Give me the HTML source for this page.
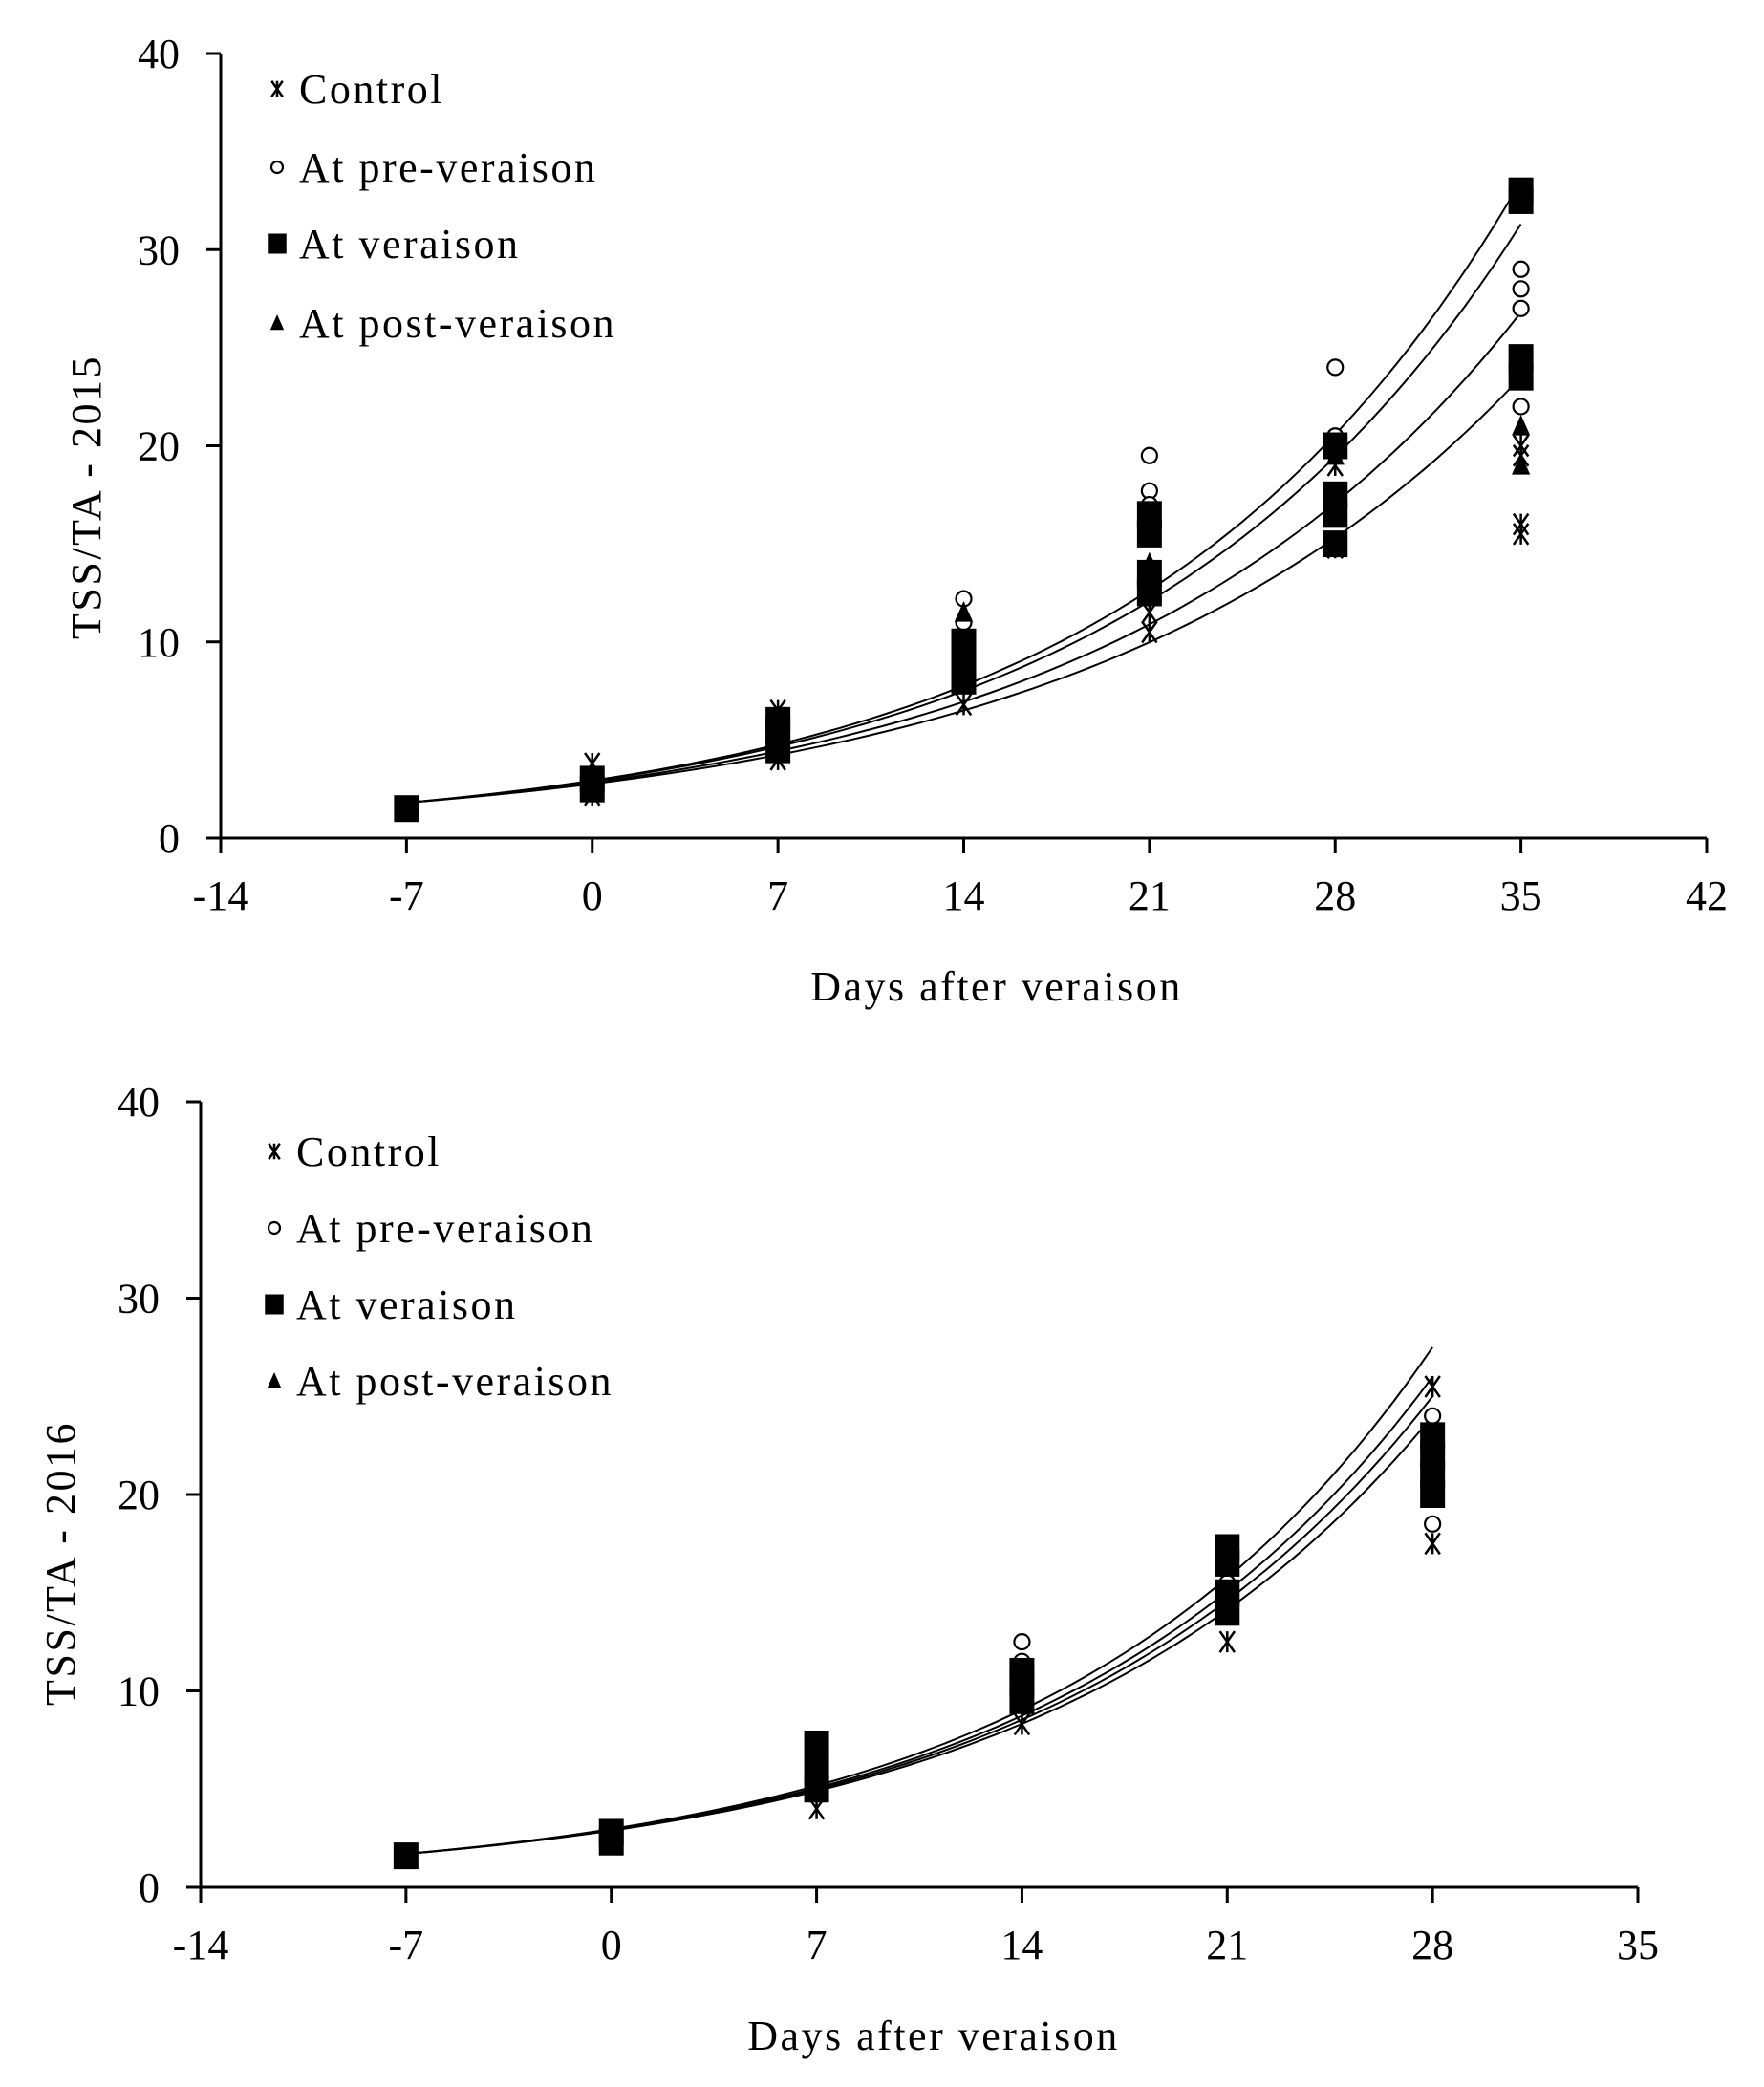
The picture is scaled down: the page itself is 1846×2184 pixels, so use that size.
<!DOCTYPE html>
<html><head><meta charset="utf-8">
<style>
html,body{margin:0;padding:0;background:#fff;}
svg{display:block;}
text{font-family:"Liberation Serif",serif;fill:#000;}
.sp{letter-spacing:2.5px;}
</style></head>
<body>
<svg id="chart" width="1846" height="2184" viewBox="0 0 1846 2184" xmlns="http://www.w3.org/2000/svg"></svg>
<script>
// ---- data: 2015 ----
const xTicks2015 = [-14,-7,0,7,14,21,28,35,42];
const yTicks = [0,10,20,30,40];
const fitStart2015 = [1.8,1.8,1.8,1.8];
const fitEnd2015 = [33.5,31.3,26.8,23.5];
const control2015 = [[-7,1.5],[0,3.8],[0,2.2],[7,6.5],[7,4.0],[14,6.8],[14,8],[21,10.5],[21,11.5],[28,14.8],[28,19],[35,15.5],[35,16],[35,19.5],[35,20]];
const pre2015 = [[0,2.5],[7,5.5],[14,12.2],[14,11],[21,19.5],[21,17.7],[21,17],[28,24],[28,20.5],[35,29],[35,28],[35,27],[35,22]];
const ver2015 = [[-7,1.5],[0,2.5],[0,3],[7,4.5],[7,5.5],[7,6],[14,8],[14,9],[14,10],[21,12.5],[21,13.5],[21,15.5],[21,16.5],[28,15],[28,16.5],[28,17.5],[28,20],[35,32.5],[35,33],[35,23.5],[35,24.5]];
const post2015 = [[14,11.5],[21,14],[28,19.5],[35,21],[35,19]];
// ---- data: 2016 ----
const xTicks2016 = [-14,-7,0,7,14,21,28,35];
const fitStart2016 = [1.7,1.7,1.7,1.7];
const fitEnd2016 = [27.5,26,25,24];
const control2016 = [[7,4],[14,8.3],[21,12.5],[28,17.5],[28,25.5],[28,23]];
const pre2016 = [[14,12.5],[14,11.5],[21,15.5],[28,18.5],[28,24]];
const ver2016 = [[-7,1.6],[0,2.3],[0,2.8],[7,5],[7,6],[7,7.3],[14,9.5],[14,10.5],[14,11],[21,14],[21,15],[21,16.5],[21,17.3],[28,20],[28,21],[28,22],[28,23]];
const post2016 = [[28,22]];
const legendLabels = ["Control","At pre-veraison","At veraison","At post-veraison"];

const NS="http://www.w3.org/2000/svg";
const svg=document.getElementById('chart');
function mk(tag,attrs,parent){const e=document.createElementNS(NS,tag);for(const k in attrs)e.setAttribute(k,attrs[k]);(parent||svg).appendChild(e);return e;}

function marker(kind,cx,cy,g,scale){
  const s=scale||1;
  if(kind===0){
    const r=11*s;
    const m=mk('path',{d:`M${cx-r*0.7},${cy-r}L${cx+r*0.7},${cy+r}M${cx+r*0.7},${cy-r}L${cx-r*0.7},${cy+r}M${cx},${cy-r}L${cx},${cy+r}`,stroke:'#000','stroke-width':2.5,fill:'none'},g);
    
    
  }else if(kind===1){
    const m=mk('circle',{cx:cx,cy:cy,r:8*s,fill:'#fff',stroke:'#000','stroke-width':2.2},g);
    
    
  }else if(kind===2){
    const m=mk('rect',{x:cx-13*s,y:cy-14*s,width:26*s,height:28*s,fill:'#000'},g);
    
    
  }else{
    const r=12*s;
    const m=mk('polygon',{points:`${cx},${cy-r} ${cx+r*0.8},${cy+r*0.8} ${cx-r*0.8},${cy+r*0.8}`,fill:'#000'},g);
    
    
  }
}

function drawPanel(o){
  const g=mk('g',{});
  
  
  const xMin=o.xTicks[0], xMax=o.xTicks[o.xTicks.length-1];
  const X=v=>o.x0+(v-xMin)/(xMax-xMin)*(o.x1-o.x0);
  const Y=v=>o.y0-(v/40)*(o.y0-o.y1);
  const ya=mk('line',{x1:o.x0,y1:o.y1,x2:o.x0,y2:o.y0,stroke:'#000','stroke-width':3},g);
  
  
  const xa=mk('line',{x1:o.x0-15,y1:o.y0,x2:o.x1,y2:o.y0,stroke:'#000','stroke-width':3},g);
  
  
  yTicks.forEach(t=>{
    mk('line',{x1:o.x0-15,y1:Y(t),x2:o.x0,y2:Y(t),stroke:'#000','stroke-width':3},g);
    const tx=mk('text',{x:o.x0-43,y:Y(t)+15,'text-anchor':'end','font-size':44},g);
    tx.textContent=t;
    
    
  });
  o.xTicks.forEach(t=>{
    mk('line',{x1:X(t),y1:o.y0,x2:X(t),y2:o.y0+16,stroke:'#000','stroke-width':3},g);
    const tx=mk('text',{x:X(t),y:o.y0+75,'text-anchor':'middle','font-size':44},g);
    tx.textContent=t;
    
    
  });
  const xt=mk('text',{x:o.xTitleX,y:o.y0+170,'text-anchor':'middle','font-size':44,'class':'sp'},g);
  xt.textContent='Days after veraison';
  
  
  const yt=mk('text',{x:0,y:0,'text-anchor':'middle','font-size':44,'class':'sp',transform:`translate(${o.yTitleX},${o.yTitleY}) rotate(-90)`},g);
  yt.textContent=o.yTitle;
  
  
  const xEnd=o.lastDay;
  o.fitStart.forEach((a,i)=>{
    const b=Math.log(o.fitEnd[i]/a)/(xEnd+7);
    let d='';
    for(let k=0;k<=80;k++){const x=-7+(xEnd+7)*k/80;const y=a*Math.exp(b*(x+7));d+=(k?'L':'M')+X(x).toFixed(1)+','+Y(y).toFixed(1);}
    const p=mk('path',{d:d,fill:'none',stroke:'#000','stroke-width':2},g);
    
    
  });
  o.series.forEach((s,k)=>s.forEach(pt=>marker(k,X(pt[0]),Y(pt[1]),g)));
  legendLabels.forEach((lab,i)=>{
    const cy=o.legY[i];
    marker(i,o.legX,cy,g,0.75);
    const tx=mk('text',{x:o.legX+23,y:cy+15,'font-size':44,'class':'sp'},g);
    tx.textContent=lab;
    
    
  });
}

drawPanel({name:'chart-2015',x0:231,x1:1786,y0:877,y1:56,xTicks:xTicks2015,lastDay:35,
  fitStart:fitStart2015,fitEnd:fitEnd2015,series:[control2015,pre2015,ver2015,post2015],
  xTitleX:1043,yTitleX:105,yTitleY:520,yTitle:'TSS/TA  -  2015',legX:290,legY:[93,175,255,338]});
drawPanel({name:'chart-2016',x0:210,x1:1714,y0:1975,y1:1153,xTicks:xTicks2016,lastDay:28,
  fitStart:fitStart2016,fitEnd:fitEnd2016,series:[control2016,pre2016,ver2016,post2016],
  xTitleX:977,yTitleX:78,yTitleY:1636,yTitle:'TSS/TA  -  2016',legX:287,legY:[1205,1285,1365,1445]});
</script>
</body></html>
